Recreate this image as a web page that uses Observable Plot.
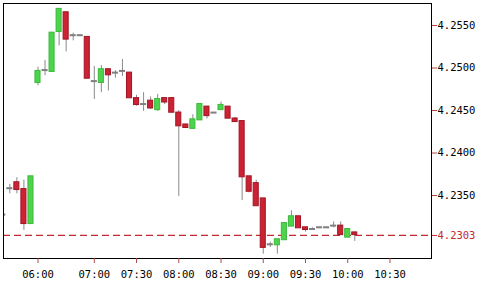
<!DOCTYPE html>
<html><head><meta charset="utf-8">
<script src="https://cdn.jsdelivr.net/npm/d3@7"></script>
<script src="https://cdn.jsdelivr.net/npm/@observablehq/plot@0.6"></script>
<style>html,body{margin:0;padding:0;background:#fff;} svg{display:block}</style>
</head><body><div id="chart"></div>
<script>
const times = ["05:35","05:40","05:45","05:50","05:55","06:00","06:05","06:10","06:15","06:20","06:25","06:40","06:50",
  "07:00","07:05","07:10","07:15","07:20","07:25","07:30","07:35","07:40","07:45","07:50","07:55",
  "08:00","08:05","08:10","08:15","08:20","08:25","08:30","08:35","08:40","08:45","08:50","08:55",
  "09:00","09:05","09:10","09:15","09:20","09:25","09:30","09:35","09:40","09:45","09:50","09:55",
  "10:00","10:05"];
const futureSlots = ["10:10","10:15","10:20","10:25","10:30","10:35","10:40","10:45","10:50","10:55"];
const open  = [4.2327,4.2358,4.2365,4.2357,4.2317,4.2483,4.2497,4.2496,4.2543,4.2565,4.2538,4.2538,4.2536,
  4.2484,4.2483,4.2498,4.2494,4.2496,4.2494,4.2464,4.2457,4.2461,4.2451,4.2464,4.2464,
  4.2447,4.2433,4.2429,4.2439,4.2454,4.2447,4.2451,4.2454,4.2440,4.2437,4.2372,4.2364,
  4.2346,4.2292,4.2292,4.2298,4.2314,4.2325,4.2312,4.2310,4.2312,4.2312,4.2314,4.2314,
  4.2301,4.2306];
const high  = [4.2327,4.2363,4.2371,4.2368,4.2372,4.2501,4.2509,4.2541,4.2569,4.2565,4.2541,4.2538,4.2536,
  4.2502,4.2503,4.2498,4.2497,4.2510,4.2494,4.2468,4.2471,4.2466,4.2469,4.2464,4.2465,
  4.2450,4.2433,4.2445,4.2457,4.2455,4.2447,4.2460,4.2454,4.2442,4.2437,4.2372,4.2368,
  4.2346,4.2295,4.2298,4.2317,4.2332,4.2325,4.2312,4.2312,4.2312,4.2312,4.2319,4.2319,
  4.2310,4.2307];
const low   = [4.2327,4.2352,4.2352,4.2309,4.2317,4.2479,4.2491,4.2496,4.2526,4.2519,4.2532,4.2538,4.2488,
  4.2463,4.2471,4.2473,4.2488,4.2490,4.2465,4.2455,4.2449,4.2451,4.2449,4.2457,4.2448,
  4.2349,4.2430,4.2429,4.2439,4.2440,4.2447,4.2450,4.2441,4.2436,4.2344,4.2353,4.2338,
  4.2281,4.2289,4.2281,4.2298,4.2314,4.2312,4.2307,4.2309,4.2312,4.2312,4.2312,4.2304,
  4.2301,4.2296];
const close = [4.2327,4.2358,4.2357,4.2317,4.2372,4.2496,4.2497,4.2541,4.2569,4.2534,4.2538,4.2538,4.2488,
  4.2484,4.2498,4.2492,4.2494,4.2496,4.2465,4.2457,4.2457,4.2453,4.2463,4.2460,4.2448,
  4.2432,4.2430,4.2439,4.2457,4.2444,4.2447,4.2456,4.2441,4.2437,4.2372,4.2355,4.2338,
  4.2289,4.2292,4.2298,4.2317,4.2325,4.2312,4.2310,4.2310,4.2312,4.2312,4.2314,4.2304,
  4.2310,4.2304];
const currentPrice = 4.2303;
const yTicks = [4.2350, 4.2400, 4.2450, 4.2500, 4.2550];
const xTickLabels = ["06:00","07:00","07:30","08:00","08:30","09:00","09:30","10:00","10:30"];

const slots = times.concat(futureSlots);
const data = times.map((t, i) => ({i, t, o: open[i], h: high[i], l: low[i], c: close[i]}));
const up = data.filter(d => d.c > d.o), down = data.filter(d => d.c < d.o), flat = data.filter(d => d.c === d.o);
const body = (arr, fill, stroke) => Plot.rect(arr, {
  x1: d => d.i - 0.36, x2: d => d.i + 0.36,
  y1: d => Math.min(d.o, d.c), y2: d => Math.max(d.o, d.c),
  fill, stroke, strokeWidth: 1, insetTop: -0.5, insetBottom: -0.5, clip: true
});
const font = {fontFamily: "DejaVu Sans Mono", fontSize: 10.5};
const chart = Plot.plot({
  width: 492, height: 281,
  marginLeft: 3, marginTop: 3, marginRight: 61, marginBottom: 23,
  style: {fontFamily: "DejaVu Sans Mono", fontSize: "10.5px", background: "#fff", overflow: "visible"},
  x: {type: "linear", domain: [0.1, 60.9], axis: null, label: null},
  y: {domain: [4.22759, 4.25759], axis: null, label: null},
  marks: [
    Plot.ruleY([currentPrice], {stroke: "#c42a33", strokeWidth: 1.2, strokeDasharray: "7,4"}),
    Plot.ruleX(data, {x: "i", y1: "l", y2: "h", stroke: "#8a8a8a", clip: true}),
    body(up, "#4cd44c", "#3cb83c"),
    body(down, "#cc2233", "#a01525"),
    body(flat, "#909090", "#808080"),
    Plot.frame({stroke: "#000"}),
    Plot.axisY({anchor: "right", ticks: yTicks, tickFormat: d3.format(".4f"), tickSize: 5, tickPadding: 1,
      label: null, stroke: "#b04848", fill: "#000", ...font}),
    Plot.axisY({anchor: "right", ticks: [currentPrice], tickFormat: d3.format(".4f"), tickSize: 5, tickPadding: 1,
      label: null, stroke: "#c42a33", fill: "#c42a33", ...font}),
    Plot.axisX({anchor: "bottom", ticks: xTickLabels.map(s => slots.indexOf(s)), tickFormat: i => slots[i],
      label: null, tickSize: 5, tickPadding: 7, stroke: "#b04848", fill: "#000", ...font})
  ]
});
document.getElementById("chart").appendChild(chart);
</script>
</body></html>
